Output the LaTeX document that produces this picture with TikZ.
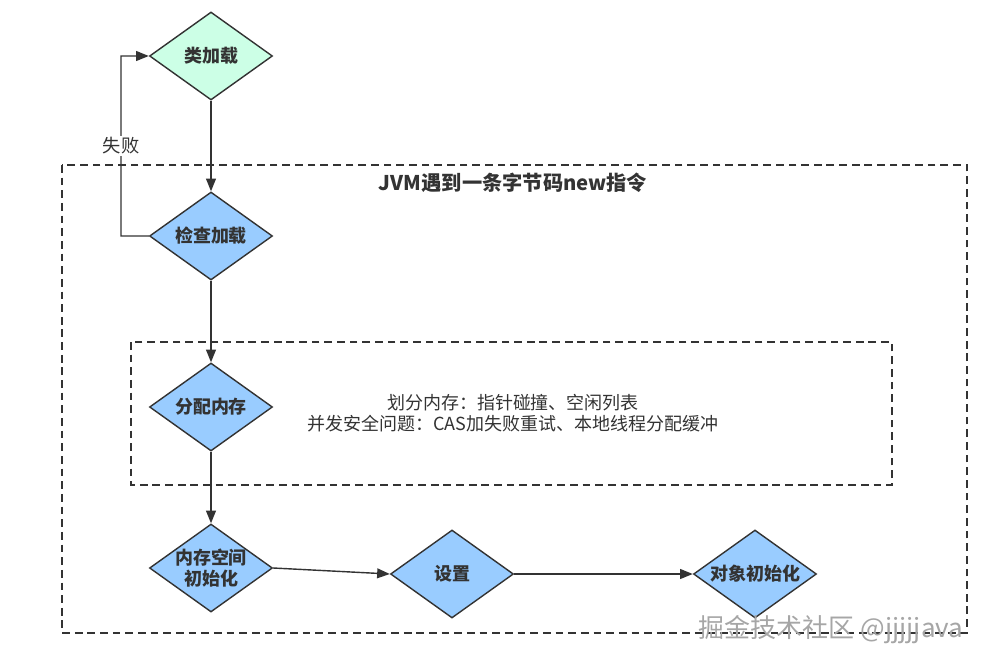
\documentclass[tikz,border=0pt]{standalone}
\usepackage{fontspec}
\setmainfont{Noto Sans CJK SC}
\usepackage{tikz}
\usetikzlibrary{shapes.geometric,arrows.meta,positioning}

\definecolor{stepblue}{HTML}{99CCFF}
\definecolor{stepgreen}{HTML}{CCFFE6}
\definecolor{linegray}{HTML}{333333}

\begin{document}
\begin{tikzpicture}[>={Triangle[length=9pt,width=7pt]}, line width=1pt, node distance=4.5cm,
  dtext/.style={inner sep=0pt, align=center, font=\bfseries\fontsize{12.8}{15.5}\selectfont, text=linegray},
  decision/.style={diamond, draw=linegray, fill=stepblue, minimum width=3.075cm, minimum height=2.2cm,
                   inner sep=0pt, label={[dtext]center:#1}},
  frame/.style={draw=linegray, dash pattern=on 5.5pt off 3.5pt}]

\useasboundingbox (0,0) rectangle (24.6,-16.575);

% dashed frames
\draw[frame] (1.55,-4.125) rectangle (24.175,-15.825);
\draw[frame] (3.275,-8.55) rectangle (22.3,-12.125);
\node[font=\bfseries\fontsize{14.4}{16}\selectfont, text=linegray] (title) at (12.825,-4.575) {JVM遇到一条字节码new指令};

\node[decision=类加载, fill=stepgreen] (load)  at (5.275,-1.4)                  {};
\node[decision=检查加载]               (check) [below of=load]                   {};
\node[decision=分配内存]               (alloc) [below of=check, node distance=4.275cm] {};
\node[decision={内存空间\\初始化}]     (init)  [below of=alloc, node distance=4.025cm] {};
\node[decision=设置]                   (set)   [right of=init, node distance=6.025cm, yshift=-0.15cm] {};
\node[decision=对象初始化]             (obj)   [right of=set, node distance=7.575cm]  {};

\node[align=center, font=\fontsize{12.8}{15}\selectfont, text=linegray] (note) at (12.825,-10.34)
  {划分内存：指针碰撞、空闲列表\\并发安全问题：CAS加失败重试、本地线程分配缓冲};

\coordinate (bend) at (3.025,-5.9);
\coordinate (top)  at (3.025,-1.4);

\draw[->, linegray] (check.west) -- (bend) -- (top) -- (load.west);
\node[fill=white, inner sep=1pt, font=\fontsize{13}{14}\selectfont, text=linegray] (fail) at (3.025,-3.65) {失败};

\path[->, color=linegray]
      (load)  edge (check)
      (check) edge (alloc)
      (alloc) edge (init)
      (init.east) edge (set.west)
      (set)   edge (obj);

\node[font=\fontsize{18.5}{20}\selectfont, text=gray!70] (mark) at (20.775,-15.75) {掘金技术社区 @jjjjjava};
\end{tikzpicture}
\end{document}
